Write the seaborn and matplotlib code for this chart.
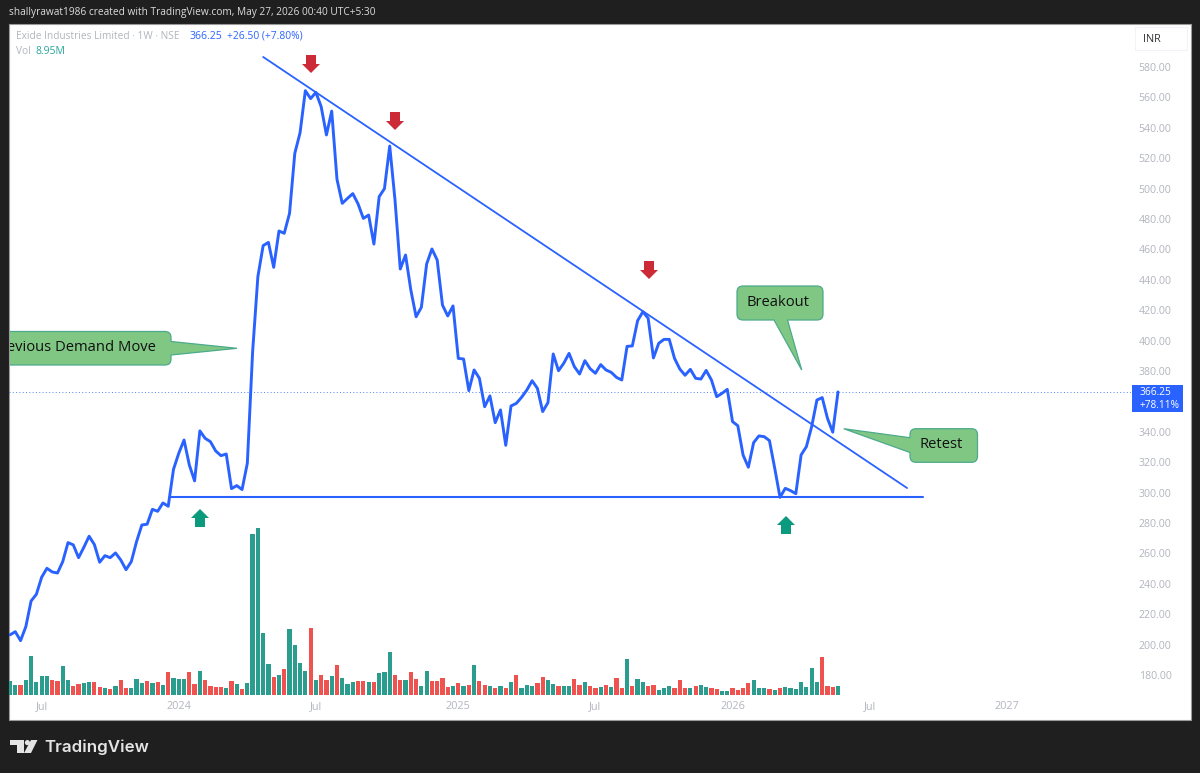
import numpy as np
import pandas as pd
import matplotlib
matplotlib.use("Agg")
import matplotlib.pyplot as plt
import seaborn as sns
from matplotlib.patches import Polygon, Rectangle, Ellipse, PathPatch, FancyBboxPatch
from matplotlib.path import Path

# ---------- data ----------
close = [206.4,208.5,202.6,211.8,228.7,233.1,244.3,250.2,247.8,247.1,254.6,267.1,265.6,257.2,264.0,271.3,265.8,254.2,258.5,257.2,
         260.3,255.7,249.3,254.6,267.8,278.7,279.2,289.0,287.7,293.2,291.0,315.3,325.9,334.6,318.2,307.7,340.6,335.7,333.5,327.4,
         324.3,325.4,302.6,304.6,302.0,319.3,392.5,442.1,462.5,464.6,448.2,472.1,470.6,483.7,523.2,536.8,564.4,559.2,563.3,553.9,
         535.3,551.0,506.1,490.3,493.6,496.7,489.9,480.4,482.6,463.5,494.7,500.0,528.0,492.5,447.1,456.3,433.3,415.7,421.9,450.4,
         460.3,453.0,423.4,416.2,422.8,388.3,387.9,367.1,380.7,375.2,356.5,363.6,346.0,354.4,331.1,357.0,358.7,362.7,367.5,373.6,
         368.6,353.3,359.2,391.2,380.2,385.1,391.6,382.9,378.0,386.8,381.5,378.5,384.2,380.7,379.1,375.8,374.1,396.2,396.5,413.1,
         419.0,414.7,388.6,398.2,400.8,400.8,388.3,381.3,377.2,381.1,375.2,374.7,380.4,374.1,363.1,365.3,367.9,346.7,344.0,324.7,
         316.7,332.9,337.3,336.8,334.2,316.0,296.9,302.8,301.3,299.3,324.8,330.2,343.4,360.9,362.5,348.9,339.75,366.25]
volume = [13.1,9.6,9.6,14.7,37.8,12.2,18.2,18.2,14.1,13.1,27.5,14.7,9.0,10.9,11.5,12.5,12.5,8.0,6.4,5.4,
          9.0,14.1,6.7,6.4,15.7,11.5,13.4,11.5,12.5,9.9,22.4,16.6,15.7,15.7,21.8,10.9,23.4,14.1,9.0,8.0,
          8.0,6.4,13.4,10.9,5.8,11.5,154.9,160.6,59.5,30.1,17.6,19.2,25.0,63.0,48.0,30.7,23.4,64.0,14.1,19.2,
          14.7,18.6,29.1,16.6,10.9,12.5,13.4,13.4,12.5,12.5,20.8,22.4,41.0,19.2,14.7,14.7,21.8,15.7,9.0,23.4,
          13.1,13.1,16.6,8.0,9.0,11.5,9.0,9.9,28.5,13.1,9.9,9.0,7.0,9.0,6.4,12.2,19.2,7.0,9.9,9.0,
          11.5,17.3,14.1,10.6,9.0,9.0,9.0,15.7,9.9,12.5,9.0,6.4,8.0,9.9,8.0,16.6,7.0,34.9,9.0,15.7,
          12.5,9.0,9.9,5.1,7.0,9.0,6.4,14.7,6.4,7.0,9.0,9.9,8.0,6.4,5.4,3.8,3.8,6.4,4.8,7.0,
          11.5,14.7,7.0,6.4,5.4,4.5,7.0,8.0,7.0,5.4,12.5,8.0,25.9,12.5,36.5,9.0,8.0,8.95]
# direction of each weekly volume bar, read bar by bar
dir_a = ["G","G","R","G","G","G","G","G","R","R","G","G","R","R","G","G","R","R","G","R",
         "G","R","R","G","G","G","R","G","R","G","R","G","G","G","R","R","G","R","R","R",
         "R","G","R","G","R","G","G","G","G","G","R","G","R","G","G","G","G","R","G","R",
         "R","G","R","G","G","G","R","R","G","R","G","G","G","R","R","G","R","R","G","G"]
dir_b = ["R","R","R","R","G","R","G","R","G","R","R","G","R","G","R","G","R","G","G","G",
         "R","R","G","G","R","G","G","R","R","G","R","R","G","R","G","R","R","G","R","G",
         "G","R","R","G","G","G","R","R","R","G","R","G","G","R","R","G","G","R","R","R",
         "R","G","G","G","R","G","R","G","G","G","G","G","G","G","R","R","R","G"]
direction = dir_a + dir_b
week = list(range(len(close)))

tick_weeks = [6, 32, 58, 85, 111, 137, 163, 189]
tick_names = ["Jul", "2024", "Jul", "2025", "Jul", "2026", "Jul", "2027"]
# 360.00 sits under the last-price tag in the reference, so it has no label
price_ticks = [p for p in range(180, 600, 20) if p != 360]
last_price = 366.25
trend_x, trend_y = [48.0, 170.1], [586.6, 303.0]
support_x, support_y = [30.3, 173.1], [297.1, 297.1]

BG, BLUE, TEAL, RED = "#1f1f1f", "#2962ff", "#2a9d8f", "#ef5350"
GREY = "#b2b5be"
FONT = "Open Sans"
W, H = 1200, 773

sns.set_theme(style="white")
plt.rcParams["font.family"] = [FONT, "DejaVu Sans"]

fig = plt.figure(figsize=(W / 100, H / 100), dpi=100, facecolor=BG)
def fx(x): return x / W
def fy(y): return 1 - y / H
def add(patch):
    patch.set_transform(fig.transFigure)
    fig.add_artist(patch)
    return patch
def pts(seq): return [(fx(x), fy(y)) for x, y in seq]

# white chart panel
panel = Rectangle((fx(9), fy(719.5)), (1190.5 - 9) / W, (719.5 - 24) / H, fc="white", ec="#9b9b9b", lw=0.8, zorder=-5)
add(panel)

# axes: left 9, right 1131, top 24, bottom 695
rect = [fx(9), fy(695), (1131 - 9) / W, (695 - 24) / H]
ax_vol = fig.add_axes(rect, facecolor="none", zorder=1)
ax = fig.add_axes(rect, facecolor="none", zorder=2)
xlim = ((9 - 10) / 5.274, (1131 - 10) / 5.274)

df = pd.DataFrame({"week": week, "vol": volume, "dir": direction})
sns.barplot(data=df, x="week", y="vol", hue="dir", palette={"G": TEAL, "R": RED}, dodge=False,
            native_scale=True, saturation=1, legend=False, ax=ax_vol)
# same width for every bar, kept on its own week
for bar in ax_vol.patches:
    centre = bar.get_x() + bar.get_width() / 2
    bar.set_width(0.8)
    bar.set_x(centre - 0.4)
    bar.set_linewidth(0)
ax_vol.set_xlim(*xlim)
ax_vol.set_ylim(0, 644)
ax_vol.set_xlabel(""); ax_vol.set_ylabel("")
ax_vol.set_xticks([]); ax_vol.set_yticks([])
sns.despine(ax=ax_vol, left=True, bottom=True)

prices = pd.DataFrame({"week": week, "close": close})
sns.lineplot(data=prices, x="week", y="close", color=BLUE, lw=2.1, ax=ax, solid_joinstyle="round", zorder=3)
ax.plot(trend_x, trend_y, color=BLUE, lw=1.3, zorder=3)
ax.plot(support_x, support_y, color=BLUE, lw=1.5, zorder=3)
ax.axhline(last_price, color=BLUE, lw=0.7, ls=(0, (1, 2.4)), alpha=0.8, zorder=2)
ax.set_xlim(*xlim)
ax.set_ylim(580 - (695 - 67) / 1.52, 580 + (67 - 24) / 1.52)
ax.set_xlabel(""); ax.set_ylabel("")
ax.yaxis.tick_right()
ax.set_yticks(price_ticks, [f"{p:.2f}" for p in price_ticks])
ax.set_xticks(tick_weeks, tick_names)
ax.tick_params(axis="y", length=0, pad=5.5, labelsize=7.6, labelcolor=GREY)
ax.tick_params(axis="x", length=0, pad=4.2, labelsize=7.8, labelcolor=GREY)
sns.despine(ax=ax, left=True, bottom=True, right=True, top=True)

# arrows
def arrow(cx, top, down, color):
    hw, sw, L, head = 9, 5, 18, 9
    s = 1 if down else -1
    y0 = top if down else top + L
    shape = [(cx - sw, y0), (cx + sw, y0), (cx + sw, y0 + s * (L - head)), (cx + hw, y0 + s * (L - head)),
             (cx, y0 + s * L), (cx - hw, y0 + s * (L - head)), (cx - sw, y0 + s * (L - head))]
    add(Polygon(pts(shape), closed=True, fc=color, ec="none", zorder=5))
for cx, top in [(311, 55), (395, 112), (649, 261)]:
    arrow(cx, top, True, "#cc2a36")
for cx, top in [(200, 509), (786, 516)]:
    arrow(cx, top, False, "#0b9a7d")

# callouts
def callout(x0, y0, x1, y1, tail, side, text, tx, ty, clip=False, ha="center"):
    r = 6
    a, b, tip = tail
    v = [(x0 + r, y0)]; c = [Path.MOVETO]
    def L(p): v.append(p); c.append(Path.LINETO)
    def Q(p, q): v.extend([p, q]); c.extend([Path.CURVE3, Path.CURVE3])
    L((x1 - r, y0)); Q((x1, y0), (x1, y0 + r))
    if side == "right":
        L((x1, a)); L(tip); L((x1, b))
    L((x1, y1 - r)); Q((x1, y1), (x1 - r, y1))
    if side == "bottom":
        L((b, y1)); L(tip); L((a, y1))
    L((x0 + r, y1)); Q((x0, y1), (x0, y1 - r))
    if side == "left":
        L((x0, b)); L(tip); L((x0, a))
    L((x0, y0 + r)); Q((x0, y0), (x0 + r, y0))
    p = PathPatch(Path(pts(v), c), fc="#81c784", ec="#4caa8c", lw=0.9, zorder=6, transform=fig.transFigure)
    fig.add_artist(p)
    t = fig.text(fx(tx), fy(ty), text, ha=ha, va="center", color="#101010", fontsize=10.6, zorder=7)
    if clip:
        box = Rectangle((fx(9.5), fy(719)), 1181 / W, 695 / H, transform=fig.transFigure)
        p.set_clip_path(box)
        t.set_clip_on(True)
        t.set_clip_path(box)
callout(-60, 331.5, 171, 365, (341.5, 355, (237, 348.3)), "right", "Previous Demand Move", 156, 347.5, clip=True, ha="right")
callout(737, 286, 823, 320, (774, 787.5, (801.7, 370)), "bottom", "Breakout", 778, 302.5)
callout(910, 428.7, 977.5, 462.3, (437.7, 452.5, (843.7, 428.7)), "left", "Retest", 941.5, 445)

# last price tag
add(Rectangle((fx(1132), fy(412)), 50.5 / W, 27 / H, fc=BLUE, ec="none", zorder=5))
fig.text(fx(1139.3), fy(399), "366.25\n+78.11%", color="white", fontsize=7.3, ha="left", va="center",
         fontweight="medium", linespacing=1.15, zorder=6)

# INR box
add(FancyBboxPatch((fx(1135), fy(50)), 52 / W, 23 / H, boxstyle="square,pad=0", fc="white", ec="#f0f3fa", lw=0.8, zorder=4))
fig.text(fx(1143), fy(39), "INR", color="#333333", fontsize=7.8, ha="left", va="center", zorder=5)

# header and legend text
fig.text(fx(9), fy(13), "shallyrawat1986 created with TradingView.com, May 27, 2026 00:40 UTC+5:30",
         color="#dcdcdc", fontsize=7.3, ha="left", va="center")
fig.text(fx(16), fy(36.5), "Exide Industries Limited · 1W · NSE", color=GREY, fontsize=7.3, ha="left", va="center", zorder=5)
fig.text(fx(189), fy(36.5), "366.25", color=BLUE, fontsize=7.5, ha="left", va="center", zorder=5)
fig.text(fx(227), fy(36.5), "+26.50 (+7.80%)", color=BLUE, fontsize=7.4, ha="left", va="center", zorder=5)
fig.text(fx(16), fy(51.5), "Vol", color=GREY, fontsize=7.3, ha="left", va="center", zorder=5)
fig.text(fx(36), fy(51.5), "8.95M", color="#26a69a", fontsize=7.5, ha="left", va="center", zorder=5)

# TradingView mark
LOGO = "#e4e4e4"
add(Polygon(pts([(10, 740), (24, 740), (24, 753), (17, 753), (17, 745), (10, 745)]), closed=True, fc=LOGO, ec="none"))
add(Ellipse((fx(27.4), fy(742.6)), 5.2 / W, 5.2 / H, fc=LOGO, ec="none"))
add(Polygon(pts([(31, 740), (37.5, 740), (31, 753), (24, 753)]), closed=True, fc=LOGO, ec="none"))
fig.text(fx(44), fy(746.8), "TradingView", color=LOGO, fontsize=12.2, ha="left", va="center", family=["Inter"], fontweight="semibold")

fig.savefig("out.png", dpi=100, facecolor=BG)
